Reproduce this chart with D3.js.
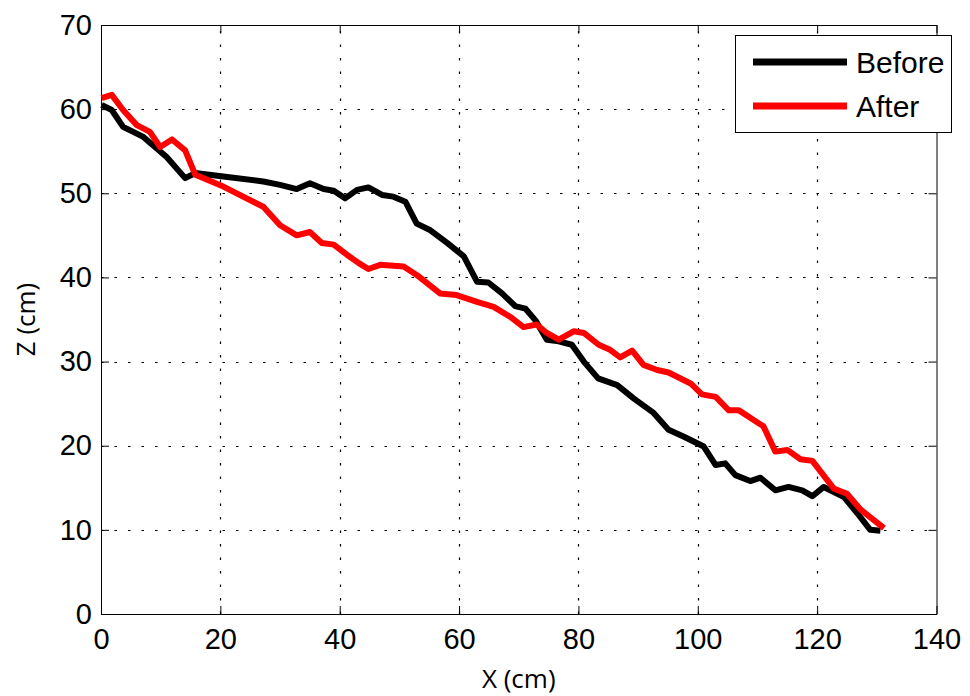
<!DOCTYPE html>
<html>
<head>
<meta charset="utf-8">
<script src="https://cdn.jsdelivr.net/npm/d3@7"></script>
<style>
  html, body { margin: 0; padding: 0; background: #fff; }
  svg { display: block; }
</style>
</head>
<body>
<svg id="chart" width="970" height="696"></svg>
<script>
// ---- data ----
const seriesNames = ["Before", "After"];
const seriesColors = ["#000000", "#ff0000"];

const beforeX = [0.1, 1.8, 3.7, 7.1, 11.0, 14.1, 15.8, 20.5, 27.2, 30.0, 32.8, 35.0, 37.3, 39.0, 40.9, 42.9, 44.8, 47.1, 49.0, 51.0, 52.9, 55.2, 58.0, 60.8, 63.0, 64.9, 67.2, 69.4, 71.1, 72.8, 74.7, 76.7, 78.9, 80.9, 83.3, 86.5, 89.3, 92.6, 95.1, 97.6, 101.0, 103.0, 104.6, 106.3, 108.8, 110.5, 113.0, 115.2, 117.5, 119.2, 121.1, 124.5, 126.7, 128.9, 130.6];
const beforeZ = [60.5, 59.9, 57.9, 56.7, 54.3, 51.8, 52.4, 52.0, 51.4, 51.0, 50.5, 51.2, 50.5, 50.3, 49.4, 50.4, 50.7, 49.8, 49.6, 49.0, 46.4, 45.6, 44.1, 42.5, 39.5, 39.4, 38.1, 36.6, 36.3, 34.9, 32.6, 32.4, 32.0, 30.0, 28.0, 27.2, 25.6, 23.9, 21.9, 21.1, 19.9, 17.7, 17.9, 16.5, 15.8, 16.2, 14.7, 15.1, 14.7, 14.0, 15.1, 13.9, 12.0, 10.0, 9.9];

const afterX = [0.1, 1.8, 3.7, 6.0, 8.2, 9.9, 11.9, 14.1, 15.8, 20.5, 27.2, 30.0, 32.8, 35.0, 37.0, 39.0, 41.2, 43.2, 44.8, 46.8, 50.7, 52.9, 56.8, 59.6, 63.0, 65.8, 68.6, 70.8, 73.0, 74.7, 76.7, 79.2, 80.9, 83.4, 85.3, 87.0, 89.0, 90.9, 93.2, 95.1, 98.8, 100.7, 103.0, 105.2, 106.9, 111.0, 113.0, 115.0, 117.2, 119.2, 122.8, 125.0, 127.3, 131.2];
const afterZ = [61.3, 61.7, 59.9, 58.1, 57.3, 55.5, 56.4, 55.1, 52.2, 50.8, 48.4, 46.2, 45.0, 45.4, 44.1, 43.9, 42.7, 41.7, 41.0, 41.5, 41.3, 40.3, 38.1, 37.9, 37.1, 36.5, 35.3, 34.1, 34.4, 33.4, 32.6, 33.6, 33.4, 32.0, 31.4, 30.5, 31.3, 29.6, 29.0, 28.7, 27.4, 26.1, 25.8, 24.2, 24.2, 22.3, 19.3, 19.5, 18.4, 18.2, 14.9, 14.3, 12.4, 10.2];

const xTicks = [0, 20, 40, 60, 80, 100, 120, 140];
const yTicks = [0, 10, 20, 30, 40, 50, 60, 70];
const xLabel = "X (cm)";
const yLabel = "Z (cm)";

// ---- layout ----
const svg = d3.select("#chart");
const pLeft = 101, pRight = 936.5, pTop = 25, pBottom = 614;
const x = d3.scaleLinear().domain([0, 140]).range([pLeft, pRight]);
const y = d3.scaleLinear().domain([0, 70]).range([pBottom, pTop]);
const tickFont = "'Liberation Sans', Arial, sans-serif";
const labelFont = "'Open Sans', 'DejaVu Sans', sans-serif";

// grid
const grid = svg.append("g");
grid.selectAll("line.gx").data(xTicks.slice(1, -1)).join("line")
  .attr("x1", d => Math.round(x(d)) + 0.5).attr("x2", d => Math.round(x(d)) + 0.5)
  .attr("y1", pBottom).attr("y2", pTop)
  .attr("stroke", "#000").attr("stroke-width", 1.2).attr("stroke-dasharray", "2.5,11");
grid.selectAll("line.gy").data(yTicks.slice(1, -1)).join("line")
  .attr("y1", d => Math.round(y(d)) + 0.5).attr("y2", d => Math.round(y(d)) + 0.5)
  .attr("x1", pLeft).attr("x2", pRight)
  .attr("stroke", "#000").attr("stroke-width", 1.2).attr("stroke-dasharray", "2.5,11");

// axes (box with inward ticks on all sides)
const tl = 8;
const xAxisB = d3.axisBottom(x).tickValues(xTicks).tickSizeInner(-tl).tickSizeOuter(0).tickPadding(14);
const xAxisT = d3.axisTop(x).tickValues(xTicks).tickSizeInner(-tl).tickSizeOuter(0).tickFormat("");
const yAxisL = d3.axisLeft(y).tickValues(yTicks).tickSizeInner(-tl).tickSizeOuter(0).tickPadding(9);
const yAxisR = d3.axisRight(y).tickValues(yTicks).tickSizeInner(-tl).tickSizeOuter(0).tickFormat("");

function styleAxis(g) {
  g.selectAll("path").attr("stroke", "#000").attr("stroke-width", 1);
  g.selectAll("line").attr("stroke", "#000").attr("stroke-width", 1);
  g.selectAll("text").attr("font-family", tickFont).attr("font-size", 29).attr("fill", "#000");
}
svg.append("g").attr("transform", `translate(0,${pBottom})`).call(xAxisB).call(styleAxis);
svg.append("g").attr("transform", `translate(0,${pTop})`).call(xAxisT).call(styleAxis);
svg.append("g").attr("transform", `translate(${pLeft},0)`).call(yAxisL).call(styleAxis);
svg.append("g").attr("transform", `translate(${pRight},0)`).call(yAxisR).call(styleAxis);

// axis labels
svg.append("text").attr("x", (pLeft + pRight) / 2).attr("y", 688)
  .attr("text-anchor", "middle").attr("font-family", labelFont).attr("font-size", 26)
  .text(xLabel);
svg.append("text").attr("transform", `translate(35,${(pTop + pBottom) / 2}) rotate(-90)`)
  .attr("text-anchor", "middle").attr("font-family", labelFont).attr("font-size", 26)
  .text(yLabel);

// lines
const series = [
  { name: seriesNames[0], color: seriesColors[0], pts: beforeX.map((v, i) => [v, beforeZ[i]]) },
  { name: seriesNames[1], color: seriesColors[1], pts: afterX.map((v, i) => [v, afterZ[i]]) }
];
const line = d3.line().x(d => x(d[0])).y(d => y(d[1]));
svg.append("g").selectAll("path").data(series).join("path")
  .attr("d", d => line(d.pts))
  .attr("fill", "none").attr("stroke", d => d.color).attr("stroke-width", 6)
  .attr("stroke-linejoin", "round").attr("stroke-linecap", "butt");

// legend
const lg = svg.append("g");
lg.append("rect").attr("x", 735.5).attr("y", 35.5).attr("width", 216).attr("height", 97)
  .attr("fill", "#fff").attr("stroke", "#000").attr("stroke-width", 1);
const lgY = [62, 106];
series.forEach((s, i) => {
  lg.append("line").attr("x1", 753).attr("x2", 847).attr("y1", lgY[i]).attr("y2", lgY[i])
    .attr("stroke", s.color).attr("stroke-width", 7);
  lg.append("text").attr("x", 856).attr("y", lgY[i]).attr("dy", "0.35em")
    .attr("font-family", tickFont).attr("font-size", 30).text(s.name);
});
</script>
</body>
</html>
